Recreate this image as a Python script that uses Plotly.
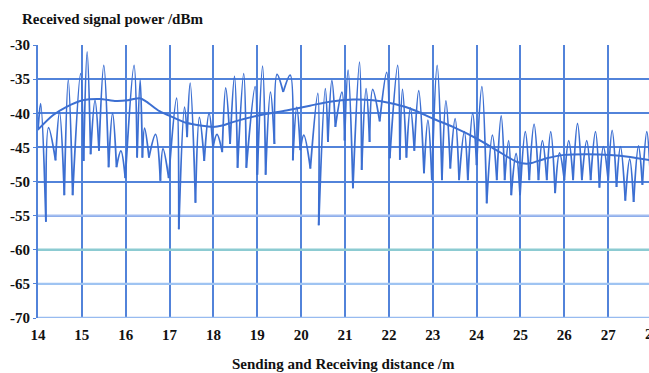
import plotly.graph_objects as go

# Local extrema of the received power (alternating null / peak, starting and ending on a null)
extrema_distance = [
    14.00, 14.06, 14.18, 14.24, 14.40, 14.49, 14.60, 14.69, 14.79, 14.97,
    15.04, 15.12, 15.20, 15.30, 15.39, 15.50, 15.61, 15.70, 15.79, 15.89,
    15.99, 16.19, 16.26, 16.33, 16.38, 16.43, 16.53, 16.68, 16.79, 16.85,
    16.98, 17.16, 17.21, 17.34, 17.40, 17.47, 17.59, 17.68, 17.79, 17.90,
    17.99, 18.08, 18.20, 18.28, 18.38, 18.48, 18.55, 18.69, 18.75, 18.95,
    19.00, 19.12, 19.19, 19.30, 19.39, 19.45, 19.59, 19.75, 19.81, 19.90,
    19.98, 20.06, 20.21, 20.38, 20.40, 20.55, 20.61, 20.70, 20.78, 20.93,
    20.99, 21.07, 21.18, 21.33, 21.38, 21.48, 21.56, 21.63, 21.79, 21.95,
    22.02, 22.20, 22.25, 22.31, 22.40, 22.49, 22.58, 22.68, 22.80, 22.89,
    22.98, 23.10, 23.21, 23.30, 23.40, 23.51, 23.60, 23.72, 23.80, 23.91,
    24.00, 24.12, 24.23, 24.36, 24.46, 24.56, 24.64, 24.73, 24.79, 24.90,
    24.99, 25.11, 25.20, 25.31, 25.41, 25.50, 25.60, 25.69, 25.79, 25.89,
    26.00, 26.10, 26.20, 26.30, 26.40, 26.51, 26.60, 26.71, 26.80, 26.89,
    27.00, 27.09, 27.19, 27.28, 27.39, 27.49, 27.58, 27.69, 27.78, 27.88,
    27.96,
]
extrema_power = [
    -42.5, -38.6, -55.9, -42.1, -46.9, -39.8, -52.0, -35.1, -52.0, -34.2,
    -47.0, -31.0, -46.0, -38.1, -45.5, -33.0, -47.9, -40.0, -47.9, -45.5,
    -49.5, -33.0, -46.5, -35.1, -46.5, -42.2, -46.5, -43.1, -49.9, -45.2,
    -49.5, -37.8, -57.0, -39.1, -43.5, -35.6, -53.1, -40.6, -47.0, -40.0,
    -45.0, -43.1, -45.7, -36.3, -44.5, -34.6, -48.0, -34.2, -48.0, -36.1,
    -49.0, -33.1, -49.0, -36.9, -44.5, -34.3, -36.9, -34.4, -46.9, -39.1,
    -45.4, -43.2, -48.1, -37.1, -56.4, -36.4, -44.2, -35.2, -42.0, -36.9,
    -44.0, -33.7, -51.0, -32.5, -48.3, -36.4, -44.2, -36.5, -41.2, -34.0,
    -46.6, -33.0, -46.8, -36.5, -46.5, -39.2, -45.5, -36.7, -48.8, -41.0,
    -49.8, -33.0, -49.8, -38.2, -48.1, -40.8, -49.8, -42.7, -49.8, -40.0,
    -47.6, -36.1, -53.2, -43.2, -49.8, -40.4, -49.8, -44.0, -52.0, -45.9,
    -52.0, -42.7, -49.8, -41.6, -49.8, -44.0, -49.8, -42.7, -51.7, -45.8,
    -49.8, -44.0, -49.8, -41.5, -49.8, -44.0, -49.8, -42.7, -50.9, -44.9,
    -49.8, -42.5, -50.8, -44.9, -52.8, -46.7, -53.0, -44.8, -50.5, -42.7,
    -49.0,
]

# Averaged (large-scale) received power
trend_distance = [
    14.00, 14.34, 14.64, 15.02, 15.40, 15.78, 16.05, 16.32, 16.47, 16.77,
    17.08, 17.38, 17.70, 17.99, 18.20, 18.44, 19.05, 19.66, 20.20, 20.65,
    21.18, 21.64, 22.02, 22.48, 23.01, 23.46, 24.00, 24.45, 24.91, 25.14,
    25.25, 25.60, 26.00, 26.50, 27.04, 27.50, 27.96,
]
trend_power = [
    -42.4, -40.3, -39.1, -38.1, -37.9, -38.2, -38.1, -37.8, -38.3, -39.7,
    -40.6, -41.4, -41.8, -42.0, -41.8, -41.3, -40.3, -39.6, -38.9, -38.3,
    -38.0, -38.1, -38.5, -39.3, -40.8, -42.0, -43.7, -45.4, -47.1, -47.4,
    -47.3, -46.6, -46.1, -46.0, -46.1, -46.4, -46.9,
]

x_ticks = list(range(14, 28))
y_ticks = [-70, -65, -60, -55, -50, -45, -40, -35, -30]

LINE = "#3c6fd2"
GRID = "#5283da"
FONT = "Liberation Serif"
TICKFONT = dict(family=FONT, size=15, color="#111111", weight="bold")

# Each lobe (null -> peak -> null) is smoothed on its own so nulls stay sharp
lobe_x, lobe_y = [], []
for i in range(1, len(extrema_distance) - 1, 2):
    lobe_x += [extrema_distance[i - 1], extrema_distance[i], extrema_distance[i + 1], None]
    lobe_y += [extrema_power[i - 1], extrema_power[i], extrema_power[i + 1], None]

fig = go.Figure()

# Lighter, tinted horizontal grid lines in the lower part of the chart
hline_colors = {-55: "#a3bdf0", -60: "#8ccbd2", -65: "#9fc4f2", -70: "#97bbf0"}
for yv, col in hline_colors.items():
    fig.add_shape(type="line", xref="x", yref="y", x0=14, x1=28, y0=yv, y1=yv,
                  line=dict(color=col, width=2.4), layer="between")

fig.add_trace(go.Scatter(
    x=lobe_x, y=lobe_y, mode="lines",
    line=dict(color=LINE, width=1.8, shape="spline", smoothing=1.0),
    connectgaps=False, hoverinfo="skip", showlegend=False,
))
fig.add_trace(go.Scatter(
    x=trend_distance, y=trend_power, mode="lines",
    line=dict(color=LINE, width=2.0, shape="spline", smoothing=0.8),
    hoverinfo="skip", showlegend=False,
))

fig.update_layout(
    width=649, height=373,
    margin=dict(l=38, r=0, t=45, b=55),
    paper_bgcolor="white", plot_bgcolor="white",
    font=dict(family=FONT, size=15, color="#111111"),
    xaxis=dict(
        range=[14, 27.93], tickvals=x_ticks, ticktext=[str(v) for v in x_ticks],
        showgrid=True, gridcolor=GRID, gridwidth=2,
        showline=False, zeroline=False, ticks="", ticklabelstandoff=6,
        tickfont=TICKFONT,
    ),
    yaxis=dict(
        range=[-70, -30], tickvals=y_ticks, ticktext=[str(v) for v in y_ticks],
        showgrid=True, gridcolor=GRID, gridwidth=2,
        showline=True, linecolor=GRID, linewidth=2,
        zeroline=False, ticks="outside", ticklen=3, tickcolor=GRID,
        tickfont=TICKFONT,
    ),
    annotations=[
        dict(text="Received signal power /dBm", xref="paper", yref="paper",
             x=0, y=1, xanchor="left", yanchor="middle", xshift=-18, yshift=26,
             showarrow=False, font=TICKFONT),
        dict(text="Sending and Receiving distance /m", xref="paper", yref="paper",
             x=0.5, y=0, xanchor="center", yanchor="middle", yshift=-46,
             showarrow=False, font=TICKFONT),
        dict(text="28", xref="paper", yref="paper", x=1, y=0, xanchor="center",
             yanchor="top", xshift=3, yshift=-6, showarrow=False, font=TICKFONT),
    ],
)

fig.write_html("out.html")
